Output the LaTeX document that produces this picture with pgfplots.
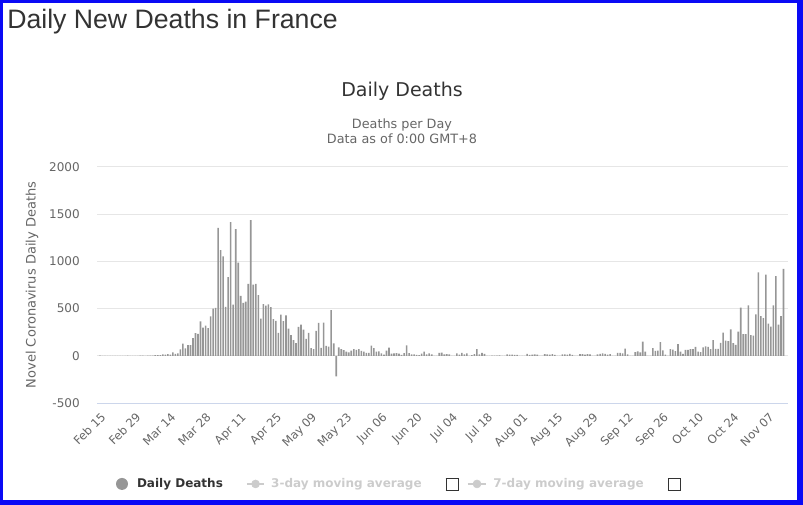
\documentclass[border=0pt]{standalone}
\usepackage{pgfplots}
\pgfplotsset{compat=1.18}
\usepackage{pgfplotstable}
\usepackage{fontspec}
\setmainfont{DejaVu Sans}
\newfontfamily\titlefont{Liberation Sans}

\definecolor{txtdark}{HTML}{333333}
\definecolor{txtmid}{HTML}{666666}
\definecolor{gridc}{HTML}{E6E6E6}
\definecolor{axisc}{HTML}{CCD6EB}
\definecolor{barc}{HTML}{969696}
\definecolor{hiddenc}{HTML}{CCCCCC}
\definecolor{framec}{HTML}{0A0AF5}

% daily new deaths, one row per day starting Feb 15
\pgfplotstableread[row sep=\\]{
deaths\\
1\\0\\0\\0\\0\\0\\0\\0\\0\\0\\0\\1\\0\\0\\0\\
0\\1\\1\\0\\2\\3\\2\\8\\6\\8\\
15\\13\\18\\12\\36\\21\\27\\69\\128\\78\\
112\\112\\186\\240\\231\\365\\299\\319\\292\\418\\
499\\
509\\1355\\1120\\1053\\518\\833\\1417\\541\\1341\\987\\
635\\561\\574\\762\\1438\\753\\761\\642\\395\\547\\
531\\544\\516\\389\\369\\242\\437\\367\\427\\289\\
218\\166\\135\\306\\330\\278\\178\\243\\80\\70\\
263\\348\\83\\351\\104\\96\\483\\131\\-217\\90\\
70\\60\\45\\35\\55\\70\\62\\72\\52\\45\\
31\\
31\\107\\81\\44\\46\\27\\13\\54\\87\\23\\
27\\28\\24\\10\\29\\111\\28\\14\\14\\9\\
6\\23\\44\\14\\25\\14\\0\\0\\30\\33\\
14\\17\\16\\0\\0\\25\\13\\30\\14\\25\\
0\\8\\18\\70\\15\\30\\20\\0\\0\\2\\
3\\2\\4\\0\\0\\14\\12\\13\\11\\10\\
0\\
0\\0\\21\\10\\12\\15\\12\\0\\0\\18\\
14\\12\\17\\11\\0\\0\\16\\15\\12\\20\\
9\\0\\0\\17\\19\\13\\19\\16\\0\\0\\
15\\
20\\26\\20\\13\\18\\0\\0\\30\\32\\27\\
75\\15\\0\\0\\38\\46\\36\\150\\45\\0\\
0\\80\\52\\55\\145\\58\\12\\0\\70\\65\\
50\\125\\45\\20\\
63\\63\\70\\70\\95\\45\\40\\88\\100\\95\\
70\\165\\74\\74\\137\\245\\160\\155\\280\\134\\
116\\255\\510\\230\\230\\535\\220\\215\\440\\885\\
420\\400\\860\\340\\310\\535\\845\\330\\420\\920\\
}\deathtable

\newcommand{\chkbox}{{\color{txtdark}\setlength{\fboxrule}{0.75pt}\setlength{\fboxsep}{0pt}\raisebox{-1.5pt}{\fbox{\rule{0pt}{8.25pt}\hspace{8.25pt}}}}}

\begin{document}
\begin{tikzpicture}
\useasboundingbox (0,0) rectangle (602.25pt,-378.75pt);
% page frame
\fill[framec] (0,0) rectangle (602.25pt,-2.25pt);
\fill[framec] (0,0) rectangle (2.25pt,-378.75pt);
\fill[framec] (597.75pt,0) rectangle (602.25pt,-378.75pt);
\fill[framec] (0,-375pt) rectangle (602.25pt,-378.75pt);

% titles
\node[anchor=base west, inner sep=0pt, text=txtdark, font=\titlefont\fontsize{20}{24}\selectfont] at (5.25pt,-21.2pt) {Daily New Deaths in France};
\node[anchor=base, inner sep=0pt, text=txtdark, font=\fontsize{14.25}{17}\selectfont] at (301.5pt,-72.4pt) {Daily Deaths};
\node[anchor=base, inner sep=0pt, text=txtmid, font=\fontsize{9.6}{11.5}\selectfont] at (301.5pt,-96.2pt) {Deaths per Day};
\node[anchor=base, inner sep=0pt, text=txtmid, font=\fontsize{9.6}{11.5}\selectfont] at (301.5pt,-108pt) {Data as of 0:00 GMT+8};

\begin{axis}[
  at={(72.75pt,-302.25pt)}, anchor=south west,
  scale only axis, width=518.25pt, height=177pt,
  xmin=-1.2, xmax=273.8, ymin=-500, ymax=2000,
  axis line style={draw=none},
  major tick length=0pt,
  ytick={0,500,1000,1500,2000},
  extra y ticks={-500},
  extra y tick labels={-500},
  extra y tick style={grid style={axisc, line width=0.75pt}},
  ymajorgrids,
  grid style={gridc, line width=0.75pt},
  scaled y ticks=false,
  /pgf/number format/1000 sep={},
  /pgf/number format/assume math mode=true,
  yticklabel style={anchor=east, inner sep=0pt, xshift=-12.75pt, text=txtmid, font=\fontsize{9}{10}\selectfont},
  xtick={0,14,...,266},
  xticklabels={Feb 15,Feb 29,Mar 14,Mar 28,Apr 11,Apr 25,May 09,May 23,Jun 06,Jun 20,Jul 04,Jul 18,Aug 01,Aug 15,Aug 29,Sep 12,Sep 26,Oct 10,Oct 24,Nov 07},
  xticklabel style={rotate=45, anchor=north east, inner sep=0pt, xshift=-4.5pt, yshift=-4.5pt, text=txtmid, font=\fontsize{8.7}{10}\selectfont},
  ylabel={Novel Coronavirus Daily Deaths},
  ylabel style={at={(axis description cs:-0.094,0.5)}, anchor=center, text=txtmid, font=\fontsize{9.75}{11}\selectfont},
  legend columns=3,
  legend cell align=left,
  legend style={at={(axis description cs:0.0275,-0.343)}, anchor=west, draw=none, fill=none,
    inner sep=0pt, outer sep=0pt, nodes={inner sep=0pt},
    font=\bfseries\fontsize{9}{11}\selectfont, text=txtdark,
    /tikz/every odd column/.append style={column sep=4.5pt},
    /tikz/every even column/.append style={column sep=6pt}},
]
\addplot[ybar, bar width=1.2pt, bar shift=0pt, fill=barc, draw=none,
  legend image code/.code={\fill[barc] (4.5pt,0pt) circle (4.5pt); \path (11.25pt,0pt);}]
  table[x expr=\coordindex, y=deaths] {\deathtable};
\addlegendentry{Daily Deaths\hspace{11.25pt}\mbox{}}
\addlegendimage{legend image code/.code={\draw[hiddenc, line width=1.5pt] (0pt,0pt) -- (13pt,0pt); \fill[hiddenc] (6.5pt,0pt) circle (3pt);}}
\addlegendentry[text=hiddenc]{3-day moving average\hspace{18pt}\chkbox}
\addlegendimage{legend image code/.code={\draw[hiddenc, line width=1.5pt] (0pt,0pt) -- (14pt,0pt); \fill[hiddenc] (7pt,0pt) circle (3pt);}}
\addlegendentry[text=hiddenc]{7-day moving average\hspace{18pt}\chkbox}
\end{axis}
\end{tikzpicture}
\end{document}
